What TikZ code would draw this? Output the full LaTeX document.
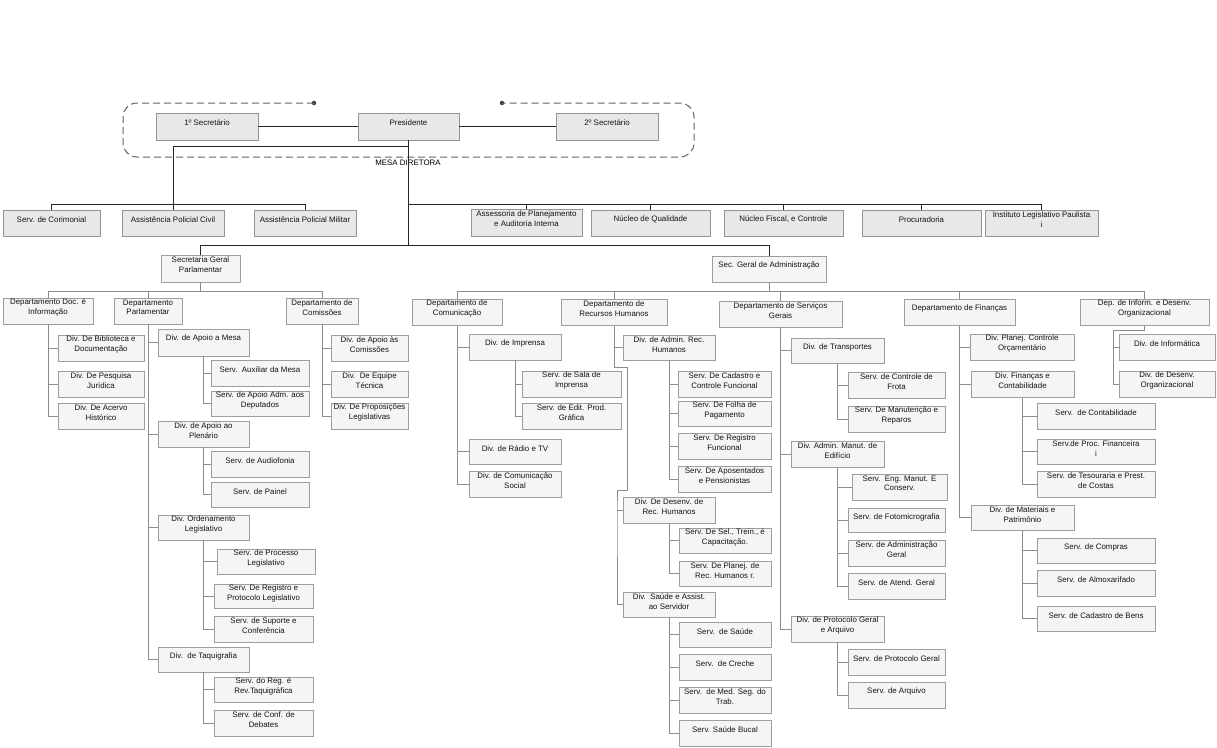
\documentclass[tikz,border=0pt]{standalone}
\usepackage{fontspec}
\setmainfont{Liberation Sans}
\tikzset{
 box/.style={draw=black!38, fill=black!4, line width=0.6pt, inner sep=0pt, outer sep=0pt, anchor=north west},
 topbox/.style={fill=black!9, draw=black!42},
 lbl/.style={anchor=center, align=center, inner sep=0pt, font=\fontsize{7.9}{9.4}\selectfont, text=black!92},
 lk/.style={draw=black!85, line width=0.9pt},
 ln/.style={draw=black!45, line width=0.6pt},
 frame/.style={draw=black!62, line width=1pt, dash pattern=on 7pt off 4pt, rounded corners=14pt},
 dotnode/.style={circle, fill=black!75, inner sep=0pt, minimum size=4.5pt},
}
\newcommand\bx[7][]{\node[box,#1,minimum width={#5pt-#3pt},minimum height={#6pt-#4pt},label={[lbl,yshift=-9.5pt]north:{#7}}] (#2) at (#3,#4) {};}
\newcommand\tk[2]{\draw[ln] (#1.south) |- (#2.west);}
\begin{document}
\begin{tikzpicture}[x=1pt,y=-1pt]
\fill[white] (0,0) rectangle (1217,747);
\useasboundingbox (0,0) rectangle (1217,747);

% Mesa diretora
\node[dotnode] (d1) at (314,103) {};
\node[dotnode] (d2) at (502,103) {};
\draw[frame] (d1.center) -- (123,103) -- (123,157) -- (694,157) -- (694,103) -- (d2.center);
\node[lbl, text=black] (mesa) at (408,163) {MESA DIRETORA};

\bx[topbox]{sec1}{156}{113}{258}{140}{1º Secretário}
\bx[topbox]{pres}{358}{113}{459}{140}{Presidente}
\bx[topbox]{sec2}{556}{113}{658}{140}{2º Secretário}

% row 2
\bx[topbox]{cerim}{3}{210}{100}{236}{Serv. de Corimonial}
\bx[topbox]{apc}{122}{210}{224}{236}{Assistência Policial Civil}
\bx[topbox]{apm}{254}{210}{356}{236}{Assistência Policial Militar}
\bx[topbox]{assess}{471}{209}{582}{236}{Assessoria de Planejamento\\e Auditoria Interna}
\bx[topbox]{nucq}{591}{210}{710}{236}{Núcleo de Qualidade}
\bx[topbox]{nucf}{724}{210}{843}{236}{Núcleo Fiscal, e Controle}
\bx[topbox]{proc}{862}{210}{981}{236}{Procuradoria}
\bx[topbox]{inst}{985}{210}{1098}{236}{Instituto Legislativo Paulista\\i}

% secretarias
\bx{SGP}{161}{255}{240}{282}{Secretaria Geral\\Parlamentar}
\bx{SGA}{712}{256}{826}{282}{Sec. Geral de Administração}

% departments (SGP)
\bx{dDoc}{3}{298}{93}{324}{Departamento Doc. é\\Informação}
\bx{dParl}{114}{298}{182}{324}{Departamento\\Parlamentar}
\bx{dCom}{286}{298}{358}{324}{Departamento de\\Comissões}

\bx{bib}{58}{335}{144}{361}{Div. De Biblioteca e\\Documentação}
\bx{pesq}{58}{371}{144}{397}{Div. De Pesquisa\\Jurídica}
\bx{acer}{58}{403}{144}{429}{Div. De Acervo\\Histórico}

\bx{apMesa}{158}{329}{249}{356}{Div. de Apoio a Mesa}
\bx{sAux}{211}{360}{309}{386}{Serv.\ \ Auxiliar da Mesa}
\bx{sApAdm}{211}{391}{309}{416}{Serv. de Apoio Adm. aos\\Deputados}
\bx{apPlen}{158}{421}{249}{447}{Div. de Apoio ao\\Plenário}
\bx{sAudio}{211}{451}{309}{477}{Serv. de Audiofonia}
\bx{sPainel}{211}{482}{309}{507}{Serv. de Painel}
\bx{ordLeg}{158}{515}{249}{540}{Div. Ordenamento\\Legislativo}
\bx{sProc}{217}{549}{315}{574}{Serv. de Processo\\Legislativo}
\bx{sRegP}{214}{584}{313}{608}{Serv. De Registro e\\Protocolo Legislativo}
\bx{sSup}{214}{616}{313}{642}{Serv. de Suporte e\\Conferência}
\bx{taq}{158}{647}{249}{672}{Div.\ \ de Taquigrafia}
\bx{sRegT}{214}{677}{313}{702}{Serv. do Reg. é\\Rev.Taquigráfica}
\bx{sConf}{214}{710}{313}{736}{Serv. de Conf. de\\Debates}

\bx{apCom}{331}{335}{408}{361}{Div. de Apoio às\\Comissões}
\bx{eqTec}{331}{371}{408}{397}{Div.\ \ De Equipe\\Técnica}
\bx{propL}{331}{403}{408}{429}{Div. De Proposições\\Legislativas}

% departments (SGA)
\bx{dCmc}{412}{299}{502}{325}{Departamento de\\Comunicação}
\bx{dRH}{561}{299}{667}{325}{Departamento de\\Recursos Humanos}
\bx{dSG}{719}{301}{842}{327}{Departamento de Serviços\\Gerais}
\bx{dFin}{904}{299}{1015}{325}{Departamento de Finanças}
\bx{dInf}{1080}{299}{1209}{325}{Dep. de Inform. e Desenv.\\Organizacional}

\bx{imp}{469}{334}{561}{360}{Div. de Imprensa}
\bx{sSala}{522}{371}{621}{397}{Serv. de Sala de\\Imprensa}
\bx{sEdit}{522}{403}{621}{429}{Serv. de Edit. Prod.\\Gráfica}
\bx{radio}{469}{439}{561}{464}{Div. de Rádio e TV}
\bx{cSoc}{469}{471}{561}{497}{Div. de Comunicação\\Social}

\bx{admRH}{623}{335}{715}{360}{Div. de Admin. Rec.\\Humanos}
\bx{sCad}{678}{371}{771}{397}{Serv. De Cadastro e\\Controle Funcional}
\bx{sFolha}{678}{401}{771}{426}{Serv. De Folha de\\Pagamento}
\bx{sRegF}{678}{433}{771}{459}{Serv. De Registro\\Funcional}
\bx{sApos}{678}{466}{771}{492}{Serv. De Aposentados\\e Pensionistas}
\bx{desRH}{623}{497}{715}{523}{Div. De Desenv. de\\Rec. Humanos}
\bx{sSel}{679}{528}{771}{553}{Serv. De Sel., Trein., é\\Capacitação.}
\bx{sPlan}{679}{561}{771}{586}{Serv. De Planej. de\\Rec. Humanos r.}
\bx{saude}{623}{592}{715}{617}{Div.\ \ Saúde e Assist.\\ao Servidor}
\bx{sSau}{679}{622}{771}{647}{Serv.\ \ de Saúde}
\bx{sCre}{679}{654}{771}{680}{Serv.\ \ de Creche}
\bx{sMed}{679}{687}{771}{713}{Serv.\ \ de Med. Seg. do\\Trab.}
\bx{sBuc}{679}{720}{771}{746}{Serv. Saúde Bucal}

\bx{trans}{791}{338}{884}{363}{Div. de Transportes}
\bx{sFrota}{848}{372}{945}{398}{Serv. de Controle de\\Frota}
\bx{sManut}{848}{406}{945}{432}{Serv. De Manutenção e\\Reparos}
\bx{admEd}{791}{441}{884}{467}{Div. Admin. Manut. de\\Edifício}
\bx{sEng}{852}{474}{947}{500}{Serv.\ \ Eng. Manut. E\\Conserv.}
\bx{sFoto}{848}{508}{945}{532}{Serv. de Fotomicrografia}
\bx{sAdmG}{848}{540}{945}{566}{Serv. de Administração\\Geral}
\bx{sAtend}{848}{573}{945}{599}{Serv. de Atend. Geral}
\bx{protoc}{791}{616}{884}{642}{Div. de Protocolo Geral\\e Arquivo}
\bx{sProt}{848}{649}{945}{675}{Serv. de Protocolo Geral}
\bx{sArq}{848}{682}{945}{708}{Serv. de Arquivo}

\bx{planOrc}{970}{334}{1074}{360}{Div. Planej. Controle\\Orçamentário}
\bx{finCont}{971}{371}{1074}{397}{Div. Finanças e\\Contabilidade}
\bx{sCont}{1037}{403}{1155}{429}{Serv.\ \ de Contabilidade}
\bx{sProcF}{1037}{439}{1155}{464}{Serv.de Proc. Financeira\\i}
\bx{sTes}{1037}{471}{1155}{497}{Serv. de Tesouraria e Prest.\\de Costas}
\bx{mat}{971}{505}{1074}{530}{Div. de Materiais e\\Patrimônio}
\bx{sComp}{1037}{538}{1155}{563}{Serv. de Compras}
\bx{sAlmox}{1037}{570}{1155}{596}{Serv. de Almoxarifado}
\bx{sCadB}{1037}{606}{1155}{631}{Serv. de Cadastro de Bens}

\bx{info}{1119}{334}{1215}{360}{Div. de Informática}
\bx{desOrg}{1119}{371}{1215}{397}{Div. de Desenv.\\Organizacional}

% ---- top connectors
\draw[lk] (sec1) -- (pres);
\draw[lk] (pres) -- (sec2);
\coordinate (bus1) at ([yshift=-6pt]pres.south);
\coordinate (busM) at ([yshift=10pt]SGP.north -| pres.south);
\coordinate (busT) at ([yshift=6pt]apc.north);
\coordinate (busR) at (busT -| pres.south);
\draw[lk] (pres.south) -- (busM);
\draw[lk] (apc.north) |- (bus1);
\draw[lk] (cerim.north) |- (busT);
\draw[lk] (apm.north) |- (busT);
\draw[lk] (assess.north) |- (busR);
\draw[lk] (nucq.north) |- (busR);
\draw[lk] (nucf.north) |- (busR);
\draw[lk] (proc.north) |- (busR);
\draw[lk] (inst.north) |- (busR);
\draw[lk] (SGP.north) |- (busM);
\draw[lk] (SGA.north) |- (busM);

% ---- second level
\coordinate (busP) at ([yshift=-9pt]SGP.south);
\coordinate (busA) at ([yshift=-9pt]SGA.south);
\draw[ln] (SGP.south) -- (busP);
\draw[ln] (dDoc.north) |- (busP);
\draw[ln] (dParl.north) |- (busP);
\draw[ln] (dCom.north) |- (busP);
\draw[ln] (SGA.south) -- (busA);
\draw[ln] (dCmc.north) |- (busA);
\draw[ln] (dRH.north) |- (busA);
\draw[ln] (dSG.north) |- (busA);
\draw[ln] (dFin.north) |- (busA);
\draw[ln] (dInf.north) |- (busA);

% ---- trunks
\tk{dDoc}{bib}\tk{dDoc}{pesq}\tk{dDoc}{acer}
\tk{dParl}{apMesa}\tk{dParl}{apPlen}\tk{dParl}{ordLeg}\tk{dParl}{taq}
\tk{apMesa}{sAux}\tk{apMesa}{sApAdm}
\tk{apPlen}{sAudio}\tk{apPlen}{sPainel}
\tk{ordLeg}{sProc}\tk{ordLeg}{sRegP}\tk{ordLeg}{sSup}
\tk{taq}{sRegT}\tk{taq}{sConf}
\tk{dCom}{apCom}\tk{dCom}{eqTec}\tk{dCom}{propL}
\tk{dCmc}{imp}\tk{dCmc}{radio}\tk{dCmc}{cSoc}
\tk{imp}{sSala}\tk{imp}{sEdit}
\tk{dRH}{admRH}
\draw[ln] (dRH.south) -- ++(0,42) -- ++(13,0) -- ++(0,123) -| ([xshift=-6pt]desRH.west) |- (saude.west);
\draw[ln] ([xshift=-6pt]desRH.west) -- (desRH.west);
\tk{admRH}{sCad}\tk{admRH}{sFolha}\tk{admRH}{sRegF}\tk{admRH}{sApos}
\tk{desRH}{sSel}\tk{desRH}{sPlan}
\tk{saude}{sSau}\tk{saude}{sCre}\tk{saude}{sMed}\tk{saude}{sBuc}
\tk{dSG}{trans}\tk{dSG}{admEd}\tk{dSG}{protoc}
\tk{trans}{sFrota}\tk{trans}{sManut}
\tk{admEd}{sEng}\tk{admEd}{sFoto}\tk{admEd}{sAdmG}\tk{admEd}{sAtend}
\tk{protoc}{sProt}\tk{protoc}{sArq}
\tk{dFin}{planOrc}\tk{dFin}{finCont}\tk{dFin}{mat}
\tk{finCont}{sCont}\tk{finCont}{sProcF}\tk{finCont}{sTes}
\tk{mat}{sComp}\tk{mat}{sAlmox}\tk{mat}{sCadB}
\draw[ln] (dInf.south) -- ++(0,5) -| ([xshift=-6pt]info.west) -- (info.west);
\draw[ln] ([xshift=-6pt]info.west) |- (desOrg.west);
\end{tikzpicture}
\end{document}
